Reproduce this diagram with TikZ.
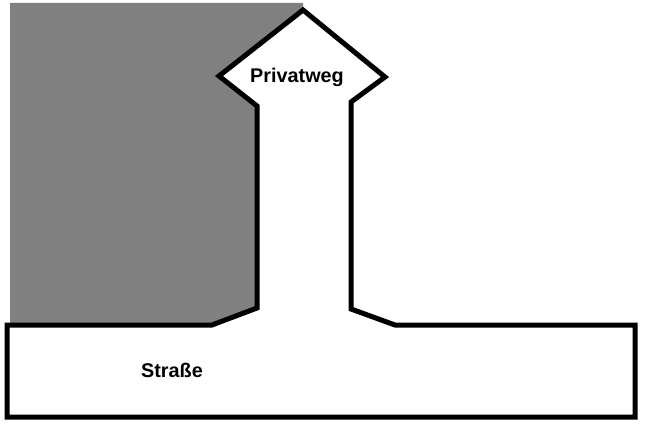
\documentclass[tikz,border=0pt]{standalone}
\usepackage{fontspec}
\setmainfont{Liberation Sans}
\begin{document}
\begin{tikzpicture}[x=1pt,y=-1pt,
  outline/.style={draw=black,line width=5pt,line join=miter},
  lbl/.style={font=\fontsize{19.8}{21}\selectfont\bfseries,inner sep=0pt}]
\useasboundingbox (0,0) rectangle (659,436);
\fill[white] (0,0) rectangle (659,436);
\fill[black!50] (10,3) -- (303,3) -- (303,10) -- (219,76) -- (257,106) -- (257,308) -- (212,325) -- (10,325) -- cycle;
\draw[outline] (7,325) -- (212,325) -- (257,308) -- (257,106) -- (219,76) -- (303,10) -- (385,77) -- (351,102) -- (351,309) -- (395,325) -- (635,325) -- (635,417) -- (7,417) -- cycle;
\node[lbl] (privatweg) at (297,77) {Privatweg};
\node[lbl] (strasse) at (172,370) {Straße};
\end{tikzpicture}
\end{document}
